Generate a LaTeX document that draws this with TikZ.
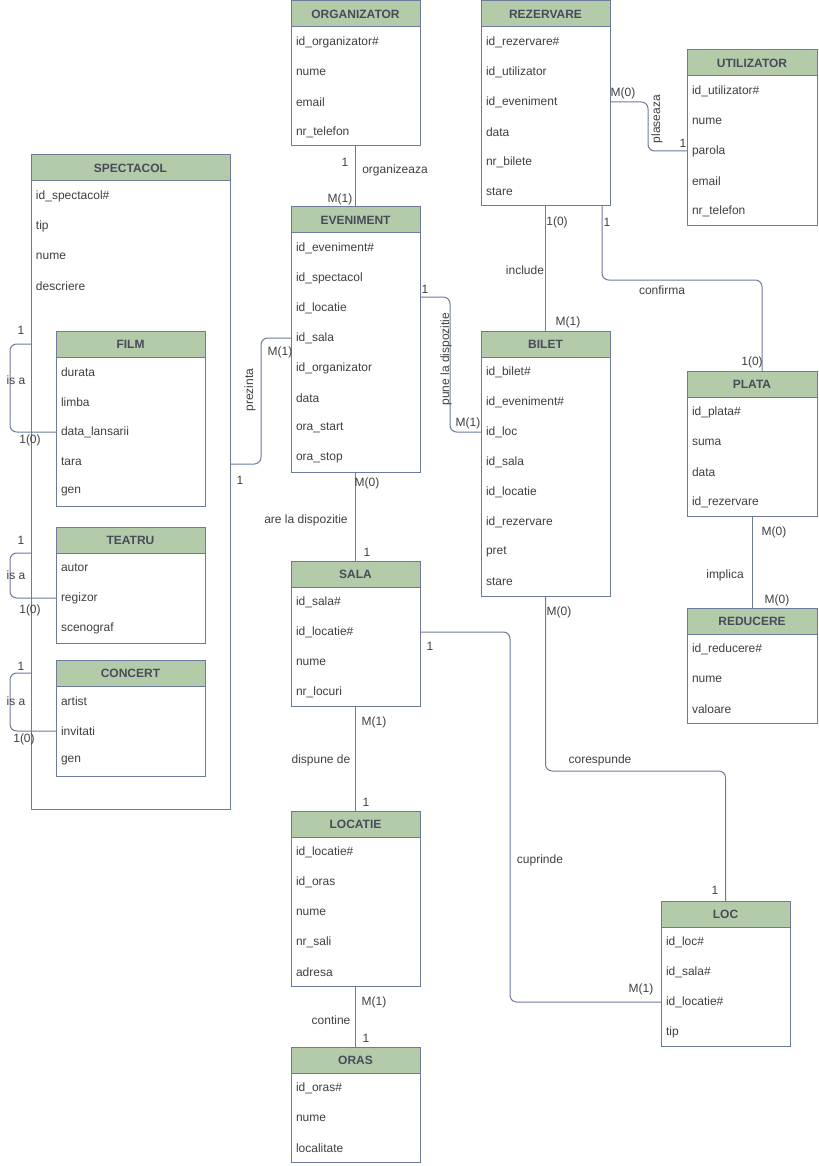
\documentclass[tikz,border=0pt]{standalone}
\usepackage{fontspec}
\setmainfont{Liberation Sans}
\usetikzlibrary{calc}

\definecolor{erBorder}{RGB}{108,122,155}
\definecolor{erHead}{RGB}{180,203,170}
\definecolor{erTitle}{RGB}{71,75,90}
\definecolor{erText}{RGB}{64,64,64}

\tikzset{
  ertable/.style={draw=erBorder, fill=white, line width=0.75pt, anchor=north west, inner sep=0pt, outer sep=0pt},
  erhead/.style={draw=erBorder, fill=erHead, line width=0.75pt, anchor=north west, minimum height=19.5pt,
    inner sep=0pt, outer sep=0pt, text=erTitle, font=\fontsize{9}{11}\selectfont\bfseries},
  erfield/.style={anchor=west, inner xsep=3.75pt, inner ysep=0pt, outer sep=0pt, text=erText,
    font=\fontsize{9}{11}\selectfont},
  rel/.style={draw=erBorder, line width=0.75pt, rounded corners=5pt},
  card/.style={inner sep=0pt, text=erText, font=\fontsize{9}{11}\selectfont},
}

\begin{document}
\begin{tikzpicture}[x=0.75pt, y=-0.75pt]

    % name, x, y, width, height, title, fields
    \newcommand*{\erEntity}[7]{%
      \node[ertable, minimum width=#4*0.75pt, minimum height=#5*0.75pt] (#1) at (#2,#3) {};
      \node[erhead, minimum width=#4*0.75pt] (#1-h) at (#1.north west) {#6};
      \foreach \fld [count=\i] in {#7} {
        \node[erfield] (#1-\i) at ($(#1-h.south west)+(0,30*\i-15)$) {\fld};
      }
    }%

    \useasboundingbox (0,0) rectangle (818,1166);

    \erEntity{organizator}{291}{1}{129}{145}{ORGANIZATOR}{id\_organizator\#, nume, email, nr\_telefon}
    \erEntity{rezervare}{481}{1}{129}{205}{REZERVARE}{id\_rezervare\#, id\_utilizator, id\_eveniment, data, nr\_bilete, stare}
    \erEntity{utilizator}{687}{50}{130}{176}{UTILIZATOR}{id\_utilizator\#, nume, parola, email, nr\_telefon}
    \erEntity{spectacol}{31}{155}{199}{654}{SPECTACOL}{id\_spectacol\#, tip, nume, descriere}
    \erEntity{film}{56}{331}{149}{175}{FILM}{durata, limba, data\_lansarii, tara, gen}
    \erEntity{teatru}{56}{527}{149}{116}{TEATRU}{autor, regizor, scenograf}
    \erEntity{concert}{56}{660}{149}{116}{CONCERT}{artist, invitati, gen}
    \erEntity{eveniment}{291}{207}{129}{265}{EVENIMENT}{id\_eveniment\#, id\_spectacol, id\_locatie, id\_sala, id\_organizator, data, ora\_start, ora\_stop}
    \erEntity{bilet}{481}{331}{129}{265}{BILET}{id\_bilet\#, id\_eveniment\#, id\_loc, id\_sala, id\_locatie, id\_rezervare, pret, stare}
    \erEntity{plata}{687}{371}{130}{145}{PLATA}{id\_plata\#, suma, data, id\_rezervare}
    \erEntity{reducere}{687}{608}{130}{115}{REDUCERE}{id\_reducere\#, nume, valoare}
    \erEntity{sala}{291}{561}{129}{145}{SALA}{id\_sala\#, id\_locatie\#, nume, nr\_locuri}
    \erEntity{locatie}{291}{811}{129}{175}{LOCATIE}{id\_locatie\#, id\_oras, nume, nr\_sali, adresa}
    \erEntity{oras}{291}{1047}{129}{115}{ORAS}{id\_oras\#, nume, localitate}
    \erEntity{loc}{661}{901}{129}{145}{LOC}{id\_loc\#, id\_sala\#, id\_locatie\#, tip}

    % relatii
    \draw[rel] (organizator.south) -- (eveniment.north);
    \draw[rel] (rezervare.east |- rezervare-3) -- ++(38,0) |- (utilizator.west |- utilizator-3);
    \draw[rel] (rezervare.south) -- (bilet.north);
    \draw[rel] ($(rezervare.south east)+(-8,0)$) -- ++(0,74) -| ($(plata.north east)+(-55,0)$);
    \draw[rel] ($(eveniment.north east)+(0,90)$) -- ++(30,0) |- (bilet.west |- bilet-3);
    \draw[rel] ($(spectacol.north east)+(0,309)$) -- ++(31,0) |- (eveniment.west |- eveniment-4);
    \draw[rel] (eveniment.south) -- (sala.north);
    \draw[rel] (sala.east |- sala-2) -- ++(90,0) |- (loc.west |- loc-3);
    \draw[rel] (bilet.south) -- ++(0,175) -| (loc.north);
    \draw[rel] (plata.south) -- (reducere.north);
    \draw[rel] (sala.south) -- (locatie.north);
    \draw[rel] (locatie.south) -- (oras.north);

    % is a
    \draw[rel] (spectacol.west |- film-h) -- ++(-21,0) |- (film.west |- film-3);
    \draw[rel] (spectacol.west |- teatru-h.south) -- ++(-21,0) |- (teatru.west |- teatru-2);
    \draw[rel] (spectacol.west |- concert-h) -- ++(-21,0) |- (concert.west |- concert-2);

    \foreach \x/\y/\txt [count=\k] in {345/162/1, 340/199/M(1), 623/93/M(0), 683/143/1, 557/222/1(0),
        607/222/1, 568/322/M(1), 752/362/1(0), 425/289/1, 468/423/M(1), 280/352/M(1), 240/480/1,
        367/483/M(0), 367/552/1, 430/646/1, 374/722/M(1), 366/802/1, 374/1002/M(1), 366/1038/1,
        559/612/M(0), 715/890/1, 641/989/M(1), 774/532/M(0), 777/600/M(0), 21/330/1, 30/440/1(0),
        21/540/1, 30/610/1(0), 21/666/1, 24/739/1(0)} {
      \node[card] (card-\k) at (\x,\y) {\txt};
    }

    \foreach \x/\y/\txt [count=\k] in {395/170/organizeaza, 525/270/include, 662/290/confirma,
        306/520/are la dispozitie, 321/760/dispune de, 331/1020/contine, 540/860/cuprinde,
        600/760/corespunde, 725/575/implica, 16/380/is a, 16/575/is a, 16/701/is a} {
      \node[card] (rel-\k) at (\x,\y) {\txt};
    }

    \node[card, rotate=90] (rel-plaseaza) at (657,119) {plaseaza};
    \node[card, rotate=90] (rel-pune) at (446,359) {pune la dispozitie};
    \node[card, rotate=90] (rel-prezinta) at (250,390) {prezinta};

\end{tikzpicture}
\end{document}
